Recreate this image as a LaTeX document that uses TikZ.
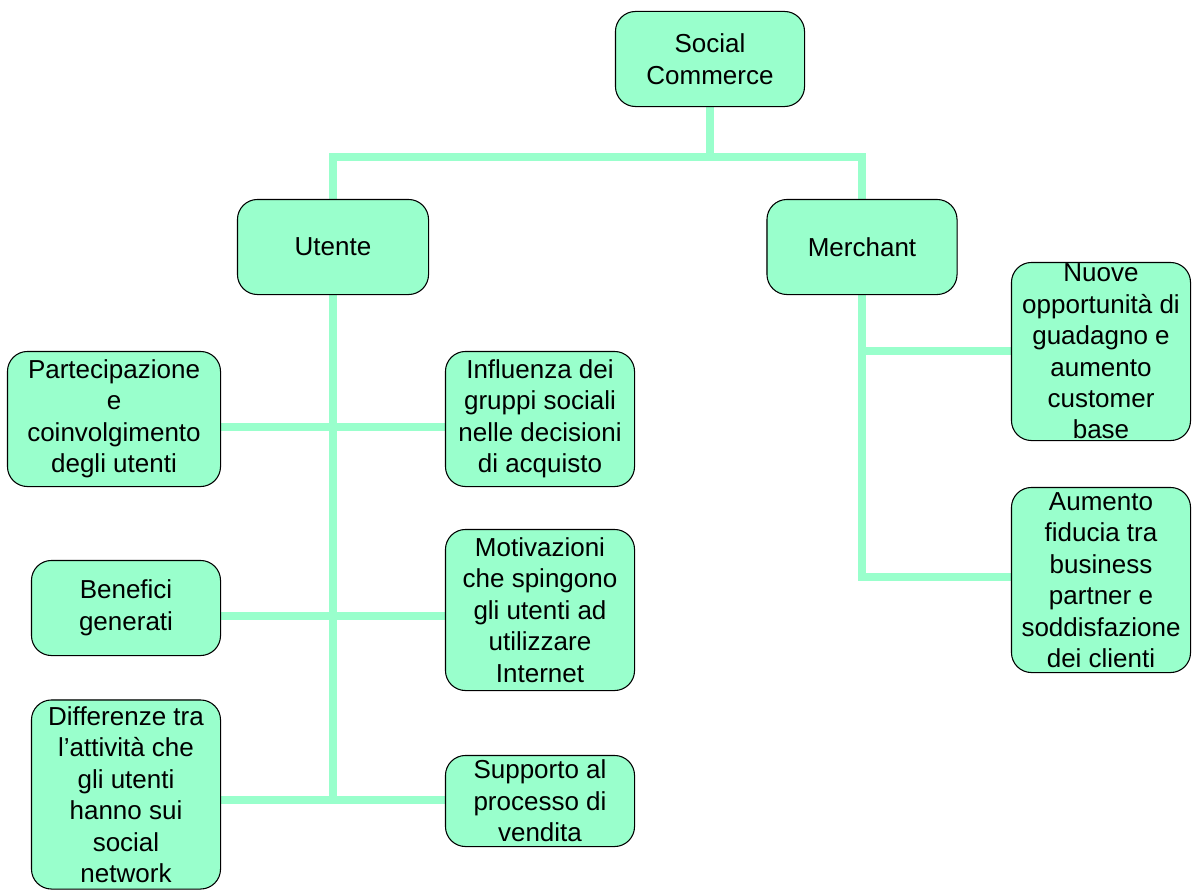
\documentclass[tikz,border=0pt]{standalone}
\usepackage{fontspec}
\setmainfont{Liberation Sans}
\definecolor{mint}{HTML}{99FFCC}
\begin{document}
\begin{tikzpicture}[x=0.75pt,y=-0.75pt,
  box/.style={draw=black,line width=0.8pt,fill=mint,rounded corners=15pt,inner sep=0pt},
  txt/.style={align=center,inner sep=0pt,font=\fontsize{19.5}{23.6}\selectfont},
  conn/.style={draw=mint,line width=6pt,line join=miter,line cap=rect}]
\useasboundingbox (0,0) rectangle (1192,892);
% boxes (shapes only)
\path
  (710,59)    node[box,minimum width=141pt,minimum height=70.5pt] (sc) {}
  (333,247)   node[box,minimum width=142.5pt,minimum height=70.5pt] (ut) {}
  (862,247)   node[box,minimum width=141.75pt,minimum height=70.5pt] (me) {}
  (114,419)   node[box,minimum width=159pt,minimum height=100.5pt] (pa) {}
  (540,419)   node[box,minimum width=141pt,minimum height=100.5pt] (in) {}
  (126,608)   node[box,minimum width=141pt,minimum height=70.5pt] (be) {}
  (540,610)   node[box,minimum width=141pt,minimum height=120pt] (mo) {}
  (126,794.5) node[box,minimum width=141pt,minimum height=141pt] (di) {}
  (540,801)   node[box,minimum width=141pt,minimum height=67.5pt] (su) {}
  (1101,351.5) node[box,minimum width=133.5pt,minimum height=132.75pt] (nu) {}
  (1101,580)  node[box,minimum width=133.5pt,minimum height=138pt] (au) {};
% connectors
\coordinate (j1) at (710,157);
\coordinate (j2) at (333,800);
\coordinate (j3) at (862,577);
\draw[conn] (sc.south) -- (j1);
\draw[conn] (ut.north) |- (j1) -| (me.north);
\draw[conn] (ut.south) -- (j2);
\draw[conn] (me.south) -- (j3);
\draw[conn] (pa.east |- 0,427) -- (in.west |- 0,427);
\draw[conn] (be.east |- 0,616) -- (mo.west |- 0,616);
\draw[conn] (di.east |- j2) -- (su.west |- j2);
\draw[conn] (me.south |- 0,351) -- (nu.west |- 0,351);
\draw[conn] (j3) -- (au.west |- j3);
% redraw boxes on top
\foreach \n in {sc,ut,me,pa,in,be,mo,di,su,nu,au}{
  \draw[black,line width=0.8pt,fill=mint,rounded corners=15pt] (\n.south west) rectangle (\n.north east);
}
% texts
\node[txt] (tsc) at (sc) {Social\\Commerce};
\node[txt] (tut) at (ut) {Utente};
\node[txt] (tme) at (me) {Merchant};
\node[txt] (tpa) at (pa) {Partecipazione\\e\\coinvolgimento\\degli utenti};
\node[txt] (tin) at (in) {Influenza dei\\gruppi sociali\\nelle decisioni\\di acquisto};
\node[txt] (tbe) at (be) {Benefici\\generati};
\node[txt] (tmo) at (mo) {Motivazioni\\che spingono\\gli utenti ad\\utilizzare\\Internet};
\node[txt] (tdi) at (di) {Differenze tra\\l’attività che\\gli utenti\\hanno sui\\social\\network};
\node[txt] (tsu) at (su) {Supporto al\\processo di\\vendita};
\node[txt] (tnu) at (nu) {Nuove\\opportunità di\\guadagno e\\aumento\\customer\\base};
\node[txt] (tau) at (au) {Aumento\\fiducia tra\\business\\partner e\\soddisfazione\\dei clienti};
\end{tikzpicture}
\end{document}
